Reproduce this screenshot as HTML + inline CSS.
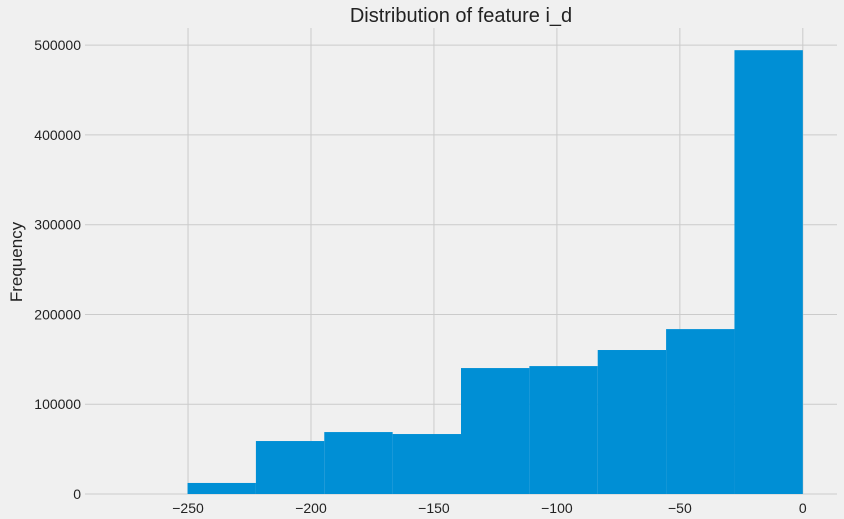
<!DOCTYPE html>
<html><head><meta charset="utf-8"><style>
body{margin:0;background:#f0f0f0;}
svg{display:block;font-family:"Liberation Sans","DejaVu Sans",sans-serif;}
</style></head><body>
<svg id="chart" width="844" height="519" viewBox="0 0 844 519">
<rect width="844" height="519" fill="#f0f0f0"/>
<text x="461" y="22" text-anchor="middle" font-size="20" fill="#222">Distribution of feature i_d</text>
<text transform="translate(22,262) rotate(-90)" text-anchor="middle" font-size="17" fill="#222">Frequency</text>
<g id="grid"></g><g id="bars"></g><g id="ticks"></g>
</svg>
<script>
const binStart = -278;
const binEnd = 0;
const counts = [0, 12300, 59000, 69000, 66800, 140300, 142500, 160400, 183700, 494400];
const xTicks = [-250, -200, -150, -100, -50, 0];
const yTicks = [0, 100000, 200000, 300000, 400000, 500000];
const xTickLabels = ["\u2212250", "\u2212200", "\u2212150", "\u2212100", "\u221250", "0"];
const yTickLabels = ["0", "100000", "200000", "300000", "400000", "500000"];

const L=85,R=837,T=28,B=494;
const span=binEnd-binStart, xmin=binStart-span*0.05, xmax=binEnd+span*0.05;
const ymax=Math.max(...counts)*1.05;
const x=v=>L+(v-xmin)/(xmax-xmin)*(R-L);
const y=v=>B-v/ymax*(B-T);
const NS="http://www.w3.org/2000/svg";
const mk=(t,a,p)=>{const e=document.createElementNS(NS,t);for(const k in a)e.setAttribute(k,a[k]);p.appendChild(e);return e;};
const grid=document.getElementById('grid'),bars=document.getElementById('bars'),ticks=document.getElementById('ticks');
xTicks.forEach((v,i)=>{
  const g=mk('line',{x1:x(v),x2:x(v),y1:T,y2:B,stroke:'#cbcbcb','stroke-width':1},grid);
  
  
  const t=mk('text',{x:x(v),y:B+19,'text-anchor':'middle','font-size':14,fill:'#222'},ticks);
  t.textContent=xTickLabels[i];
  
  
});
yTicks.forEach((v,i)=>{
  const g=mk('line',{x1:L,x2:R,y1:y(v),y2:y(v),stroke:'#cbcbcb','stroke-width':1},grid);
  
  
  const t=mk('text',{x:L-4,y:y(v)+5,'text-anchor':'end','font-size':14,fill:'#222'},ticks);
  t.textContent=yTickLabels[i];
  
  
});
const w=span/counts.length;
counts.forEach((c,i)=>{
  if(c<=0)return;
  const x0=x(binStart+i*w),x1=x(binStart+(i+1)*w);
  const r=mk('rect',{x:x0,y:y(c),width:x1-x0,height:B-y(c),fill:'#008fd5'},bars);
  
  
});
</script>
</body></html>
